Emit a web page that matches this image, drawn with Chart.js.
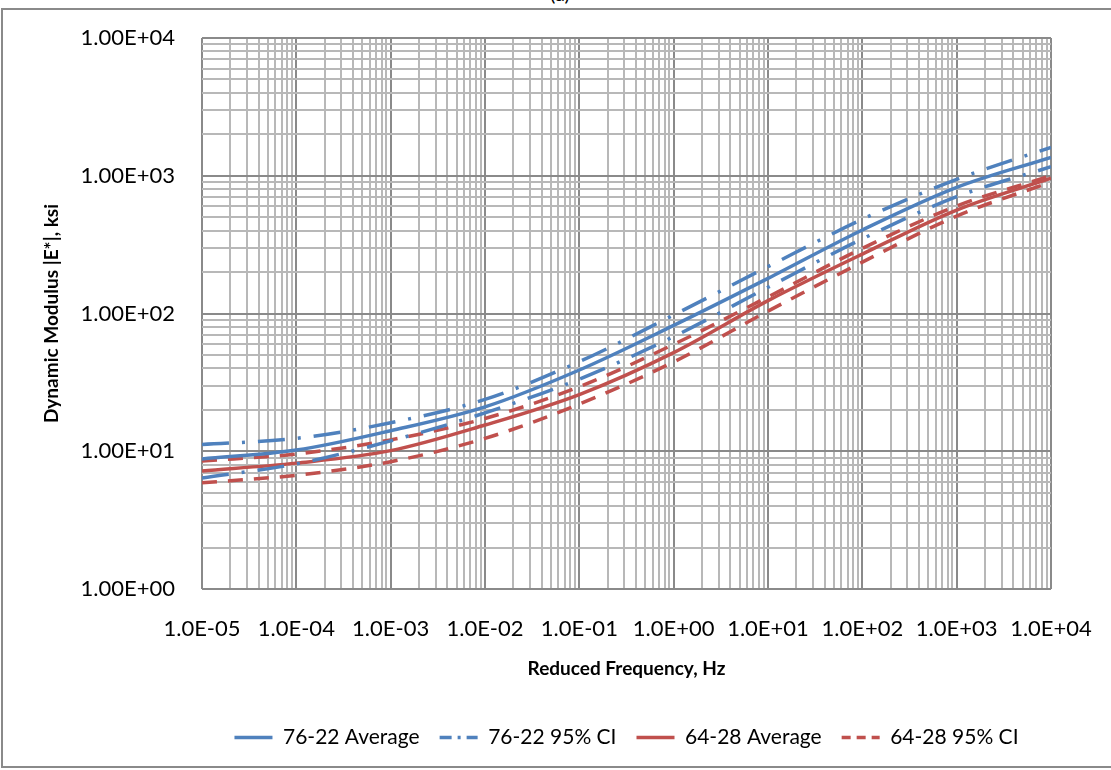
<!DOCTYPE html>
<html>
<head>
<meta charset="utf-8">
<title>Dynamic Modulus Master Curves</title>
<script src="https://cdn.jsdelivr.net/npm/chart.js@4/dist/chart.umd.min.js"></script>
<style>
  html, body { margin: 0; padding: 0; background: #fff; overflow: hidden; }
  #wrap { position: relative; width: 1111px; height: 770px; overflow: hidden; }
  #frame {
    position: absolute; left: 1px; top: 8px; width: 1130px; height: 760px;
    border: 2px solid #8a8a8a; box-sizing: border-box;
  }
  #panel {
    position: absolute; left: 0; top: -19px; width: 1120px; text-align: center;
    font: 20px Lato, sans-serif; color: #000;
  }
  canvas { position: absolute; left: 0; top: 0; }
</style>
</head>
<body>
<div id="wrap">
  <div id="frame"></div>
  <div id="panel">(a)</div>
  <canvas id="modulusChart" width="1111" height="770"></canvas>
</div>
<script>
// Reduced frequency (Hz), one point per decade
const frequencies = [1e-5, 1e-4, 1e-3, 1e-2, 1e-1, 1e0, 1e1, 1e2, 1e3, 1e4];

// |E*| in ksi
const avg7622 = [8.8, 10.2, 14.1, 21.0, 38.9, 82, 180, 404, 824, 1361];
const ci7622Upper = [11.2, 12.4, 16.1, 23.8, 44.7, 97.5, 219, 483, 942, 1608];
const ci7622Lower = [6.4, 8.1, 11.9, 19.0, 33.4, 68, 155, 348, 705, 1163];
const avg6428 = [7.2, 8.2, 10.1, 15.5, 25.8, 52, 124, 270, 564, 960];
const ci6428Upper = [8.5, 9.55, 12.1, 17.3, 29.4, 59.7, 132, 297, 603, 1000];
const ci6428Lower = [5.9, 6.7, 8.4, 12.4, 22.0, 44.5, 104, 236, 510, 900];

const seriesNames = ['76-22 Average', '76-22 95% CI', '64-28 Average', '64-28 95% CI'];

// Labels for the decade gridlines
const xTickLabels = ['1.0E-05', '1.0E-04', '1.0E-03', '1.0E-02', '1.0E-01',
                     '1.0E+00', '1.0E+01', '1.0E+02', '1.0E+03', '1.0E+04'];
const yTickLabels = ['1.00E+00', '1.00E+01', '1.00E+02', '1.00E+03', '1.00E+04'];
const xMinExp = -5, xMaxExp = 4;
const yMinExp = 0, yMaxExp = 4;

const blue = '#4f81bd';
const red = '#c0504d';
const majorGrid = '#8a8a8a';
const minorGrid = '#b8b8b8';
const fontFamily = 'Lato, "Open Sans", sans-serif';

function toPoints(values) {
    return frequencies.map((f, i) => ({ x: f, y: values[i] }));
}

function isDecade(v) {
    const l = Math.log10(v);
    return Math.abs(l - Math.round(l)) < 1e-6;
}

// 1..9 x 10^n ticks so every log gridline gets drawn
function logTicks(minExp, maxExp) {
    const ticks = [];
    for (let e = minExp; e < maxExp; e++) {
        for (let m = 1; m <= 9; m++) {
            ticks.push({ value: m * Math.pow(10, e) });
        }
    }
    ticks.push({ value: Math.pow(10, maxExp) });
    return ticks;
}

function gridColor(ctx) {
    if (!ctx.tick) return minorGrid;
    return isDecade(ctx.tick.value) ? majorGrid : minorGrid;
}

const lineBase = {
    borderWidth: 3.5,
    pointRadius: 0,
    pointHoverRadius: 0,
    fill: false,
    cubicInterpolationMode: 'monotone'
};

const datasets = [
    { ...lineBase, label: seriesNames[0], data: toPoints(avg7622), borderColor: blue, backgroundColor: blue },
    { ...lineBase, label: seriesNames[1], data: toPoints(ci7622Upper), borderColor: blue, backgroundColor: blue,
      borderDash: [27, 13, 3, 13], legendDash: [12, 6, 3, 6] },
    { ...lineBase, label: seriesNames[1], data: toPoints(ci7622Lower), borderColor: blue, backgroundColor: blue,
      borderDash: [27, 13, 3, 13], hideInLegend: true },
    { ...lineBase, label: seriesNames[2], data: toPoints(avg6428), borderColor: red, backgroundColor: red },
    { ...lineBase, label: seriesNames[3], data: toPoints(ci6428Upper), borderColor: red, backgroundColor: red,
      borderDash: [15, 11], legendDash: [9, 6] },
    { ...lineBase, label: seriesNames[3], data: toPoints(ci6428Lower), borderColor: red, backgroundColor: red,
      borderDash: [15, 11], hideInLegend: true }
];

const ctx = document.getElementById('modulusChart').getContext('2d');

new Chart(ctx, {
    type: 'line',
    data: { datasets },
    options: {
        responsive: false,
        animation: false,
        devicePixelRatio: 1,
        layout: { padding: { left: 0, right: 60, top: 38, bottom: 12 } },
        scales: {
            x: {
                type: 'logarithmic',
                min: Math.pow(10, xMinExp),
                max: Math.pow(10, xMaxExp),
                afterBuildTicks: scale => { scale.ticks = logTicks(xMinExp, xMaxExp); },
                afterFit: scale => {
                    // fixed axis band; end labels may overhang the plot
                    scale.height = 118;
                    scale.paddingLeft = 0;
                    scale.paddingRight = 0;
                },
                grid: { color: gridColor, lineWidth: 2, drawTicks: false },
                border: { display: false },
                ticks: {
                    autoSkip: false,
                    maxRotation: 0,
                    padding: 27,
                    color: '#000',
                    font: { family: fontFamily, size: 22 },
                    callback: value => isDecade(value) ? xTickLabels[Math.round(Math.log10(value)) - xMinExp] : ''
                },
                title: {
                    display: true,
                    text: 'Reduced Frequency, Hz',
                    color: '#000',
                    padding: { top: 0, bottom: 27 },
                    font: { family: fontFamily, size: 19, weight: 'bold' }
                }
            },
            y: {
                type: 'logarithmic',
                min: Math.pow(10, yMinExp),
                max: Math.pow(10, yMaxExp),
                afterBuildTicks: scale => { scale.ticks = logTicks(yMinExp, yMaxExp); },
                afterFit: scale => {
                    scale.width = 202;
                    scale.paddingTop = 0;
                    scale.paddingBottom = 0;
                },
                grid: { color: gridColor, lineWidth: 2, drawTicks: false },
                border: { display: false },
                ticks: {
                    autoSkip: false,
                    padding: 27,
                    color: '#000',
                    font: { family: fontFamily, size: 22 },
                    callback: value => isDecade(value) ? yTickLabels[Math.round(Math.log10(value)) - yMinExp] : ''
                },
                title: {
                    display: true,
                    text: 'Dynamic Modulus |E*|, ksi',
                    color: '#000',
                    padding: { top: 40, bottom: 0 },
                    font: { family: fontFamily, size: 19, weight: 'bold' }
                }
            }
        },
        plugins: {
            tooltip: { enabled: false },
            legend: {
                position: 'bottom',
                fullSize: false,
                labels: {
                    usePointStyle: true,
                    pointStyle: 'line',
                    pointStyleWidth: 38,
                    padding: 20,
                    color: '#000',
                    font: { family: fontFamily, size: 21 },
                    filter: (item, data) => !data.datasets[item.datasetIndex].hideInLegend,
                    generateLabels: chart => Chart.defaults.plugins.legend.labels.generateLabels(chart).map(item => {
                        const ds = chart.data.datasets[item.datasetIndex];
                        if (ds.legendDash) item.lineDash = ds.legendDash;
                        return item;
                    })
                }
            }
        }
    }
});
</script>
</body>
</html>
